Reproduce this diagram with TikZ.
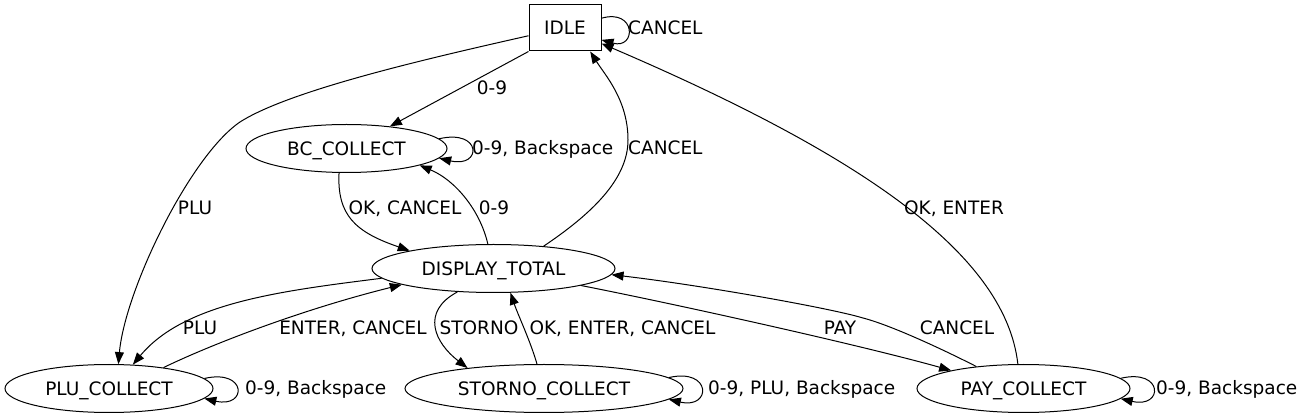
\documentclass[tikz,border=0pt]{standalone}
\usepackage{fontspec}
\setmainfont{DejaVu Sans}
\usetikzlibrary{shapes.geometric,arrows.meta}
\begin{document}
\begin{tikzpicture}[x=1pt,y=-1pt,
  every node/.style={font=\fontsize{18.5}{22}\selectfont, inner sep=0pt, text height=13.5pt, text depth=0pt},
  st/.style={draw, ellipse, line width=1pt, minimum height=48pt},
  box/.style={draw, rectangle, line width=1pt, minimum width=72pt, minimum height=46pt},
  edge/.style={line width=1pt, -{Triangle[length=12pt,width=9pt]}}]
\useasboundingbox (0,0) rectangle (1299,419);
% states
\node[box] (idle) at (565,28) {IDLE};
\node[st, minimum width=201pt] (bc) at (346.5,148.5) {BC\_COLLECT};
\node[st, minimum width=243pt] (disp) at (493.5,268.5) {DISPLAY\_TOTAL};
\node[st, minimum width=208pt] (plu) at (109,388.5) {PLU\_COLLECT};
\node[st, minimum width=278pt] (storno) at (544,388.5) {STORNO\_COLLECT};
\node[st, minimum width=213pt] (pay) at (1023.5,388.5) {PAY\_COLLECT};
% transitions
\draw[edge] (idle.south west) -- (bc.27);
\draw[edge] (idle.192) .. controls (430,58) and (290,90) .. (240,122) .. controls (190,156) and (125,290) .. (plu.69);
\draw[edge] (idle.15) .. controls +(35,-10) and +(35,10) .. (idle.-18);
\draw[edge] (bc.6) .. controls +(43,-10) and +(43,10) .. (bc.-6);
\draw[edge] (bc.-107) .. controls (337,215) and (355,232) .. (disp.168);
\draw[edge] (disp.103) .. controls (480,210) and (455,180) .. (bc.-13);
\draw[edge] (disp.24) .. controls (590,215) and (628,180) .. (628,140) .. controls (628,100) and (605,75) .. (idle.-43);
\draw[edge] (pay.103) .. controls (1005,250) and (850,150) .. (idle.-23);
\draw[edge] (disp.185) .. controls (280,291) and (184,303) .. (plu.45);
\draw[edge] (plu.21) .. controls (210,345) and (300,310) .. (disp.190);
\draw[edge] (disp.213) .. controls (420,312) and (435,343) .. (storno.165);
\draw[edge] (storno.106) .. controls (530,340) and (518,315) .. (disp.-55);
\draw[edge] (disp.-11) .. controls (680,305) and (860,345) .. (pay.166);
\draw[edge] (pay.155) .. controls (940,348) and (890,325) .. (863,318) .. controls (830,308) and (700,285) .. (disp.-3);
\draw[edge] (plu.6) .. controls +(43,-10) and +(43,10) .. (plu.-6);
\draw[edge] (storno.5) .. controls +(43,-10) and +(43,10) .. (storno.-5);
\draw[edge] (pay.6) .. controls +(43,-10) and +(43,10) .. (pay.-6);
% labels
\node (t1) at (492,88) {0-9};
\node (t2) at (195,208) {PLU};
\node[anchor=west] (t3) at (628,28) {CANCEL};
\node[anchor=west] (t4) at (472,148) {0-9, Backspace};
\node (t5) at (405,208) {OK, CANCEL};
\node (t6) at (494,208) {0-9};
\node[anchor=west] (t7) at (628,148) {CANCEL};
\node (t8) at (954,208) {OK, ENTER};
\node (t9) at (200,328) {PLU};
\node (t10) at (353,328) {ENTER, CANCEL};
\node (t11) at (479,328) {STORNO};
\node (t12) at (622.5,328) {OK, ENTER, CANCEL};
\node (t13) at (840,328) {PAY};
\node (t14) at (957,328) {CANCEL};
\node[anchor=west] (t15) at (245,388) {0-9, Backspace};
\node[anchor=west] (t16) at (708,388) {0-9, PLU, Backspace};
\node[anchor=west] (t17) at (1156,388) {0-9, Backspace};
\end{tikzpicture}
\end{document}
